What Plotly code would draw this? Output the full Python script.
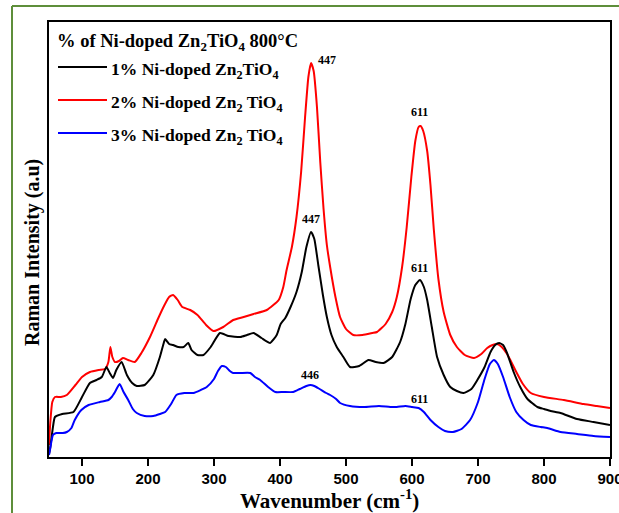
import plotly.graph_objects as go

# ---- data (wavenumber in cm^-1, intensity in arbitrary units) ----
red_x = [50, 52, 55, 59, 68, 77, 90, 100, 112, 125,
         135, 140, 143, 146, 150, 156, 162, 170, 180, 190,
         203, 215, 225, 232, 238, 245, 252, 264, 275, 288,
         299, 314, 329, 345, 360, 380, 398, 405, 410, 418,
         425, 432, 438, 443, 447, 451, 456, 461, 466, 471,
         476, 484, 491, 500, 511, 525, 540, 547, 560, 570,
         577, 585, 592, 599, 605, 610, 613, 617, 623, 628,
         633, 640, 648, 658, 668, 680, 694, 705, 714, 722,
         729, 736, 743, 749, 758, 768, 780, 800, 830, 860,
         880, 900]
red_y = [12, 35, 55, 60, 60, 62, 72, 80, 85, 87,
         88, 95, 110, 100, 95, 96, 99, 97, 95, 104,
         120, 138, 152, 160, 162, 157, 150, 147, 142, 132,
         126, 130, 137, 140, 143, 147, 157, 170, 187, 210,
         240, 285, 340, 380, 394, 386, 350, 295, 248, 212,
         190, 160, 140, 128, 122, 122, 124, 125, 133, 145,
         160, 190, 230, 280, 316, 330, 331, 326, 306, 272,
         228, 178, 145, 122, 110, 102, 99, 103, 109, 112,
         113, 110, 104, 97, 85, 73, 64, 60, 57, 53,
         51, 49]

black_x = [50, 52, 56, 59, 70, 87, 100, 112, 122, 130,
           137, 142, 147, 152, 160, 168, 176, 183, 195, 208,
           218, 223, 226, 232, 238, 246, 254, 261, 266, 275,
           284, 295, 309, 322, 340, 350, 360, 372, 385, 395,
           401, 408, 416, 425, 433, 440, 447, 452, 458, 465,
           471, 478, 486, 496, 506, 520, 534, 545, 557, 570,
           582, 590, 598, 605, 612, 618, 623, 630, 638, 648,
           658, 668, 678, 690, 699, 710, 719, 726, 732, 738,
           744, 754, 764, 775, 790, 800, 810, 825, 850, 875,
           900]
black_y = [3, 10, 30, 40, 43, 45, 60, 74, 77, 80,
           90, 84, 79, 87, 95, 82, 74, 71, 72, 82,
           100, 112, 118, 113, 112, 110, 110, 114, 107, 102,
           102, 110, 124, 121, 120, 122, 124, 119, 114, 122,
           133, 139, 150, 165, 185, 210, 225, 218, 192, 162,
           140, 122, 110, 100, 90, 91, 97, 95, 94, 100,
           115, 133, 158, 172, 177, 170, 157, 130, 100, 82,
           70, 66, 64, 68, 77, 90, 105, 112, 114, 112,
           104, 85, 70, 58, 50, 48, 46, 44, 38, 35,
           32]

blue_x = [50, 52, 56, 61, 71, 77, 84, 89, 99, 110,
          127, 140, 145, 150, 157, 163, 170, 177, 183, 195,
          208, 218, 226, 235, 243, 255, 269, 280, 289, 300,
          306, 312, 318, 324, 329, 340, 355, 362, 370, 382,
          393, 405, 420, 430, 440, 446, 452, 460, 470, 476,
          485, 491, 506, 527, 550, 567, 577, 590, 600, 610,
          618, 628, 640, 650, 662, 675, 688, 700, 710, 718,
          724, 730, 738, 748, 758, 769, 780, 795, 805, 825,
          850, 875, 900]
blue_y = [2, 9, 22, 24, 24, 25, 29, 37, 47, 52,
          55, 57, 60, 65, 73, 65, 57, 48, 44, 41,
          41, 43, 45, 53, 62, 64, 64, 67, 70, 78,
          86, 91, 90, 86, 84, 84, 84, 80, 77, 70,
          65, 65, 65, 68, 71, 72, 71, 68, 64, 62,
          58, 54, 51, 50, 51, 50, 50, 51, 50, 49,
          45, 37, 30, 26, 25, 28, 37, 55, 78, 93,
          97, 93, 80, 60, 45, 37, 32, 30, 29, 25,
          23, 21, 20]

series_names = ["1% Ni-doped Zn<sub>2</sub>TiO<sub>4</sub>",
                "2% Ni-doped Zn<sub>2</sub> TiO<sub>4</sub>",
                "3% Ni-doped Zn<sub>2</sub> TiO<sub>4</sub>"]
legend_title = "% of Ni-doped Zn<sub>2</sub>TiO<sub>4</sub> 800°C"

peak_labels = ["447", "611", "447", "611", "446", "611"]
peak_label_x = [471, 611, 447, 611, 446, 611]
peak_label_y = [397, 345, 238, 189, 82, 58]

tick_vals = [100, 200, 300, 400, 500, 600, 700, 800, 900]

assert len(red_x) == len(red_y)
assert len(black_x) == len(black_y)
assert len(blue_x) == len(blue_y)

SERIF = "Liberation Serif, Times New Roman, serif"
SANS = "Liberation Sans, Arial, sans-serif"
colors = ["#000000", "#FF0000", "#0000FF"]

fig = go.Figure()
for xs, ys, c, n in [(red_x, red_y, colors[1], series_names[1]),
                     (black_x, black_y, colors[0], series_names[0]),
                     (blue_x, blue_y, colors[2], series_names[2])]:
    fig.add_trace(go.Scatter(x=xs, y=ys, mode="lines", name=n,
                             line=dict(color=c, width=2, shape="spline", smoothing=0.5),
                             showlegend=False))

# plot-area geometry in pixels
L, R, T, B = 49, 610, 22, 457
W, H = R - L, B - T


def px(xp):
    return (xp - L) / W


def py(yp):
    return (B - yp) / H


shapes = []
annotations = []

# green frame
shapes.append(dict(type="line", xref="paper", yref="paper", x0=px(12), x1=px(12),
                   y0=py(6), y1=py(530), line=dict(color="#5E8E3A", width=2)))
shapes.append(dict(type="line", xref="paper", yref="paper", x0=px(12), x1=px(640),
                   y0=py(6), y1=py(6), line=dict(color="#5E8E3A", width=2)))

# legend (custom)
annotations.append(dict(text="<b>" + legend_title + "</b>", xref="paper", yref="paper",
                        x=px(55), y=py(42), xanchor="left", yanchor="middle", showarrow=False,
                        font=dict(family=SERIF, size=18.5, color="black")))
leg_y = [67, 100, 133]
for i in range(3):
    shapes.append(dict(type="line", xref="paper", yref="paper", x0=px(58), x1=px(107),
                       y0=py(leg_y[i]), y1=py(leg_y[i]), line=dict(color=colors[i], width=2)))
    annotations.append(dict(text="<b>" + series_names[i] + "</b>", xref="paper", yref="paper",
                            x=px(109), y=py(leg_y[i] + 3), xanchor="left", yanchor="middle",
                            showarrow=False, font=dict(family=SERIF, size=17.5, color="black")))

# peak labels
for t, x, y in zip(peak_labels, peak_label_x, peak_label_y):
    annotations.append(dict(text="<b>" + t + "</b>", x=x, y=y, xref="x", yref="y",
                            showarrow=False, font=dict(family=SERIF, size=12, color="black")))

# axis titles
annotations.append(dict(text="<b>Wavenumber (cm<sup>-1</sup>)</b>", xref="paper", yref="paper",
                        x=0.5, y=py(499), xanchor="center", yanchor="middle", showarrow=False,
                        font=dict(family=SERIF, size=21, color="black")))
annotations.append(dict(text="<b>Raman Intensity (a.u)</b>", xref="paper", yref="paper",
                        x=px(33), y=py(253), xanchor="center", yanchor="middle", showarrow=False,
                        textangle=-90, font=dict(family=SERIF, size=20, color="black")))

fig.update_layout(
    width=619, height=513,
    margin=dict(l=L, r=619 - R, t=T, b=513 - B, autoexpand=False),
    paper_bgcolor="white", plot_bgcolor="white",
    shapes=shapes, annotations=annotations,
    xaxis=dict(range=[50, 900], tickvals=tick_vals, ticks="outside", ticklen=7,
               tickwidth=1.5, tickcolor="black", showline=True, linecolor="black",
               linewidth=1.5, mirror=True, showgrid=False, zeroline=False,
               ticklabeloverflow="allow", automargin=False,
               tickfont=dict(family=SANS, size=15, color="black", weight="bold")),
    yaxis=dict(range=[0, H], showticklabels=False, ticks="", showline=True,
               linecolor="black", linewidth=1.5, mirror=True, showgrid=False,
               zeroline=False, automargin=False),
)

fig.write_html("out.html")
